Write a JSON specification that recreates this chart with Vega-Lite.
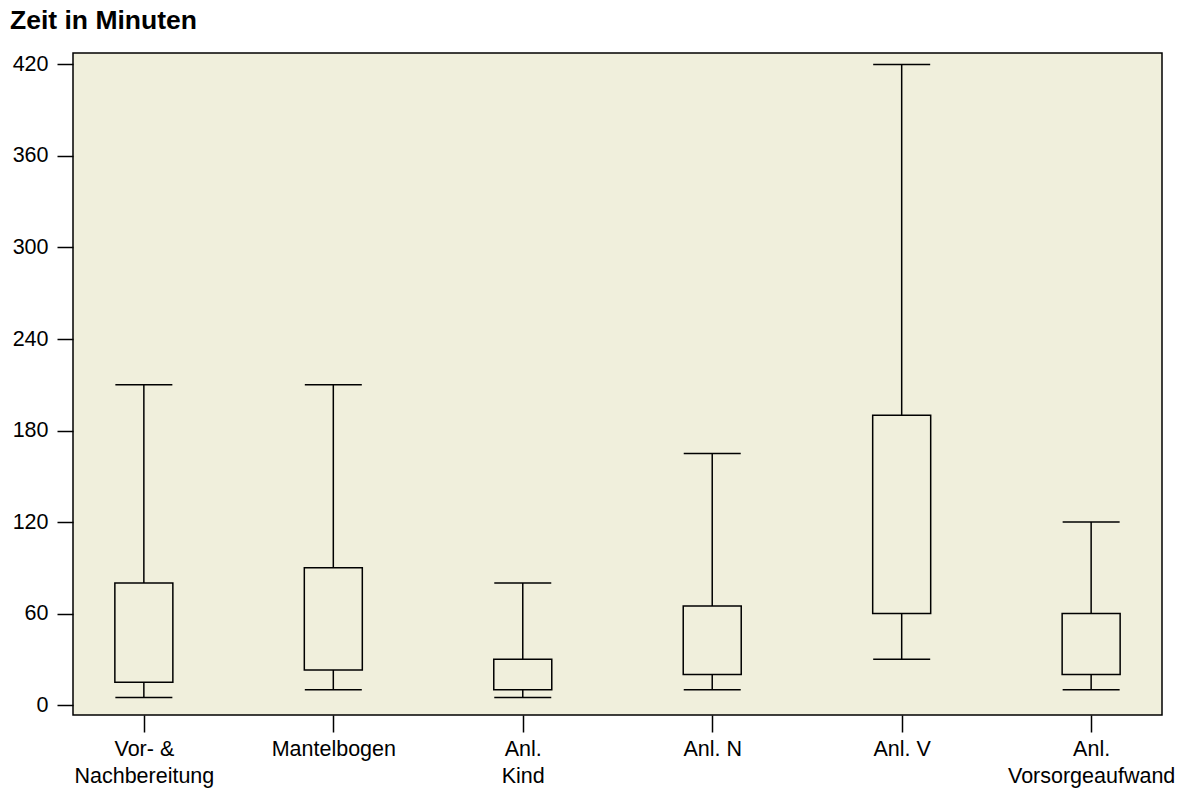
{
  "$schema": "https://vega.github.io/schema/vega-lite/v6.json",
  "width": 1089,
  "height": 662,
  "autosize": {"type": "none"},
  "padding": {"left": 73, "top": 53, "right": 18, "bottom": 74},
  "background": "white",
  "title": {
    "text": "Zeit in Minuten",
    "anchor": "start",
    "frame": "group",
    "dx": -63,
    "offset": -2,
    "baseline": "alphabetic",
    "font": "Liberation Sans",
    "fontSize": 26.5,
    "fontWeight": "bold",
    "color": "black"
  },
  "config": {
    "view": {"fill": "#f0efdc", "stroke": "black", "strokeWidth": 1.5},
    "axis": {
      "labelFont": "Liberation Sans",
      "labelFontSize": 21.5,
      "labelColor": "black",
      "tickColor": "black",
      "tickWidth": 1.5,
      "domain": false,
      "grid": false
    }
  },
  "data": {
    "values": [
      {"cat": "Vor- & Nachbereitung", "min": 5, "q1": 15, "q3": 80, "max": 210},
      {"cat": "Mantelbogen", "min": 10, "q1": 23, "q3": 90, "max": 210},
      {"cat": "Anl. Kind", "min": 5, "q1": 10, "q3": 30, "max": 80},
      {"cat": "Anl. N", "min": 10, "q1": 20, "q3": 65, "max": 165},
      {"cat": "Anl. V", "min": 30, "q1": 60, "q3": 190, "max": 420},
      {"cat": "Anl. Vorsorgeaufwand", "min": 10, "q1": 20, "q3": 60, "max": 120}
    ]
  },
  "encoding": {
    "x": {
      "field": "cat",
      "type": "nominal",
      "sort": null,
      "scale": {"type": "point", "padding": 0.374},
      "axis": {
        "title": null,
        "labelAngle": 0,
        "tickSize": 17,
        "labelPadding": 6,
        "labelLineHeight": 27,
        "labelExpr": "datum.label == 'Vor- & Nachbereitung' ? ['Vor- &', 'Nachbereitung'] : datum.label == 'Anl. Kind' ? ['Anl.', 'Kind'] : datum.label == 'Anl. Vorsorgeaufwand' ? ['Anl.', 'Vorsorgeaufwand'] : datum.label"
      }
    }
  },
  "layer": [
    {
      "mark": {"type": "rule", "color": "black", "strokeWidth": 1.5},
      "encoding": {
        "y": {
          "field": "min",
          "type": "quantitative",
          "scale": {"domain": [-6.5, 427.5], "nice": false, "zero": false},
          "axis": {"title": null, "values": [0, 60, 120, 180, 240, 300, 360, 420], "tickSize": 16, "labelPadding": 9}
        },
        "y2": {"field": "max"}
      }
    },
    {
      "mark": {"type": "bar", "size": 58, "fill": "#f0efdc", "stroke": "black", "strokeWidth": 1.5},
      "encoding": {
        "y": {"field": "q1", "type": "quantitative"},
        "y2": {"field": "q3"}
      }
    },
    {
      "mark": {"type": "tick", "size": 57, "thickness": 1.5, "color": "black", "opacity": 1},
      "encoding": {"y": {"field": "min", "type": "quantitative"}}
    },
    {
      "mark": {"type": "tick", "size": 57, "thickness": 1.5, "color": "black", "opacity": 1},
      "encoding": {"y": {"field": "max", "type": "quantitative"}}
    }
  ]
}
